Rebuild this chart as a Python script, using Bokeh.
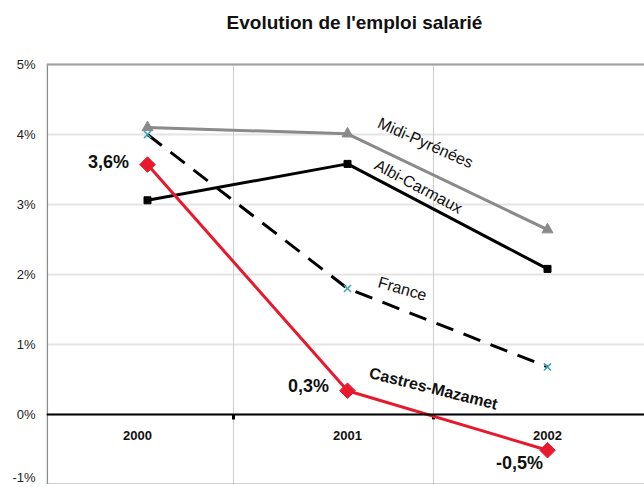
import math
from bokeh.plotting import figure
from bokeh.models import Range1d, FixedTicker, PrintfTickFormatter, Span, ColumnDataSource
from bokeh.core.properties import value
from bokeh.embed import file_html
from bokeh.resources import INLINE

# ---- data ----
years = ["2000", "2001", "2002"]
midi_pyrenees = [4.10, 4.01, 2.64]
albi_carmaux = [3.06, 3.58, 2.08]
france = [4.00, 1.80, 0.68]
castres_mazamet = [3.57, 0.34, -0.51]
castres_labels = ["3,6%", "0,3%", "-0,5%"]
y_ticks = [-1, 0, 1, 2, 3, 4, 5]
title = "Evolution de l'emploi salarié"

xs = list(range(len(years)))
boundaries = [i + 0.43 for i in xs[:-1]]
FONT = "Liberation Sans"
VF = value(FONT)

X0, X1 = -0.505, 2.485
Y0, Y1 = -1, 5.914   # extra headroom above 5% holds the title

p = figure(width=644, height=484, output_backend="svg", toolbar_location=None,
           x_range=Range1d(X0, X1), y_range=Range1d(Y0, Y1),
           min_border_left=46, min_border_right=0, min_border_top=0, min_border_bottom=0,
           x_axis_location=None)
p.outline_line_color = None
p.background_fill_color = "white"
p.border_fill_color = "white"
p.xgrid.visible = False

ax = p.yaxis[0]
ax.ticker = FixedTicker(ticks=y_ticks)
ax.formatter = PrintfTickFormatter(format="%d%%")
ax.major_label_text_font = FONT
ax.major_label_text_font_size = "13px"
ax.major_label_text_color = "#222222"
ax.major_tick_in = 0
ax.major_tick_out = 0
ax.minor_tick_in = 0
ax.minor_tick_out = 0
ax.axis_line_color = None
ax.major_label_standoff = 11
p.ygrid.grid_line_color = "#e4e4e4"
p.ygrid.grid_line_width = 2

for b in boundaries:
    p.segment(x0=[b], y0=[y_ticks[0]], x1=[b], y1=[y_ticks[-1]], line_color="#cccccc", line_width=1)
p.segment(x0=[X0 + 0.004], y0=[y_ticks[0]], x1=[X0 + 0.004], y1=[y_ticks[-1]],
          line_color="#8c8c8c", line_width=1.5)
p.add_layout(Span(location=y_ticks[-1], dimension="width", line_color="#a0a0a0", line_width=2))
p.add_layout(Span(location=y_ticks[0], dimension="width", line_color="#a0a0a0", line_width=2))
p.add_layout(Span(location=0, dimension="width", line_color="black", line_width=2))
p.segment(x0=boundaries, y0=[0] * len(boundaries), x1=boundaries, y1=[-0.07] * len(boundaries),
          line_color="black", line_width=3)

# title
p.text(x=[1.035], y=[5.6], text=[title], text_align="center", text_baseline="middle",
       text_font=VF, text_font_size="19px", text_font_style="bold", text_color="#111111")

# series
p.line(xs, midi_pyrenees, line_color="#8a8a8a", line_width=3)
p.scatter(xs, midi_pyrenees, marker="triangle", size=11, fill_color="#8a8a8a", line_color="#8a8a8a")

p.line(xs, albi_carmaux, line_color="black", line_width=3)
p.scatter(xs, albi_carmaux, marker="square", size=7, fill_color="black", line_color="black")

p.line(xs, france, line_color="black", line_width=3, line_dash="18 11")
p.scatter(xs, france, marker="x", size=10, line_color="#3aa6b9", line_width=1.5)

p.line(xs, castres_mazamet, line_color="#e8192c", line_width=3)
p.scatter(xs, castres_mazamet, marker="square", angle=math.pi / 4, size=11,
          fill_color="#e8192c", line_color="#e8192c")

# category labels
csrc = ColumnDataSource(dict(x=xs, y=[0] * len(xs), t=years, dx=[-10, 0, 0]))
p.text(x="x", y="y", text="t", x_offset="dx", y_offset=21, source=csrc,
       text_align="center", text_baseline="middle",
       text_font=VF, text_font_size="13px", text_font_style="bold", text_color="#111111")

# value labels
vsrc = ColumnDataSource(dict(x=xs, y=castres_mazamet, t=castres_labels,
                             dx=[-39, -39, -28], dy=[-3, -5, 13]))
p.text(x="x", y="y", text="t", x_offset="dx", y_offset="dy", source=vsrc,
       text_align="center", text_baseline="middle", text_font=VF, text_font_size="18px",
       text_font_style="bold", text_color="#111111")

# series name labels (near middle of last segment)
def name_label(name, vals, dx, dy, deg, bold=False):
    my = (vals[1] + vals[2]) / 2
    p.text(x=[1.5], y=[my], text=[name], x_offset=dx, y_offset=dy, angle=math.radians(deg),
           text_align="center", text_baseline="middle", text_font=VF, text_font_size="16px",
           text_font_style="bold" if bold else "normal", text_color="#111111")

name_label("Midi-Pyrénées", midi_pyrenees, -22, -39, -24)
name_label("Albi-Carmaux", albi_carmaux, -29, -30, -28)
name_label("France", france, -45, -39, -16)
name_label("Castres-Mazamet", castres_mazamet, -14, -32, -14, bold=True)

open("out.html", "w").write(file_html(p, INLINE))
